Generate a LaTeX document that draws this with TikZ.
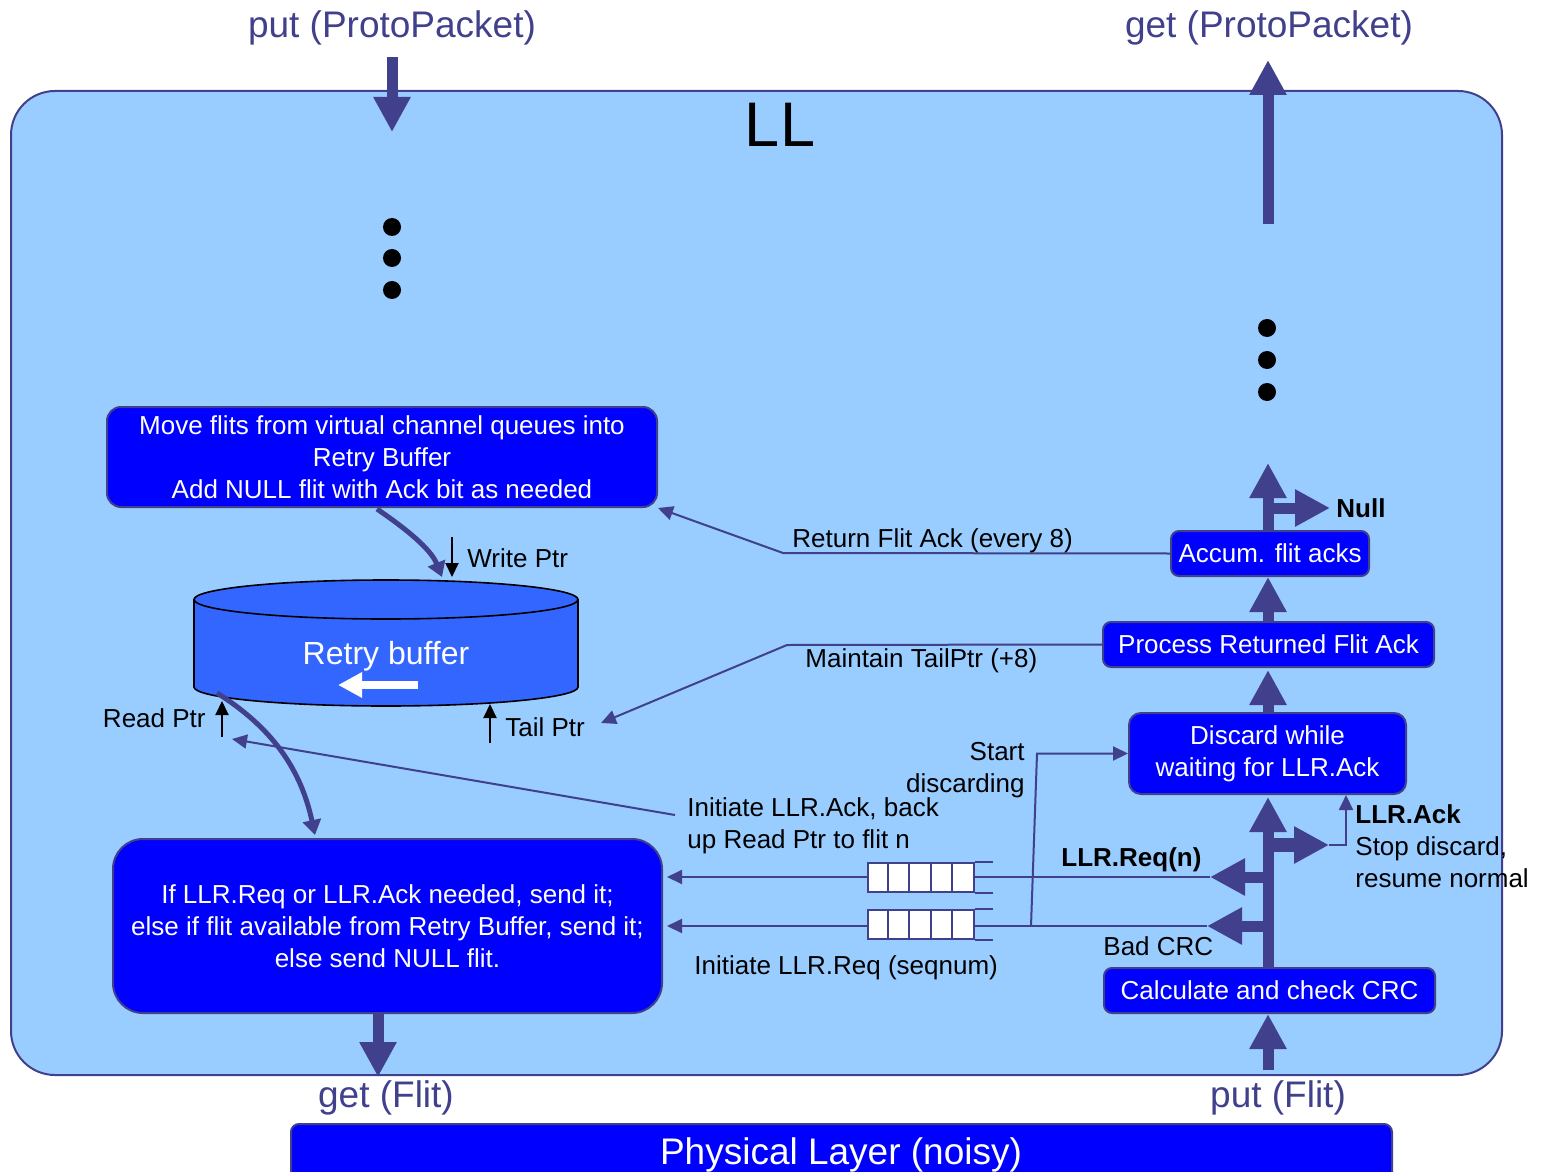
\documentclass[tikz,border=0pt]{standalone}
\usepackage{fontspec}
\setmainfont{Liberation Sans}
\usetikzlibrary{arrows.meta,calc}
\definecolor{dslate}{HTML}{40408C}
\definecolor{llfill}{HTML}{99CCFF}
\definecolor{boxblue}{HTML}{0000FF}
\definecolor{cylfill}{HTML}{3366FF}
\newcommand\fsn{\fontsize{13pt}{16pt}\selectfont}
\newcommand\fsl{\fontsize{18.5pt}{22pt}\selectfont}
\newcommand\fsll{\fontsize{31.5pt}{36pt}\selectfont}
\newcommand\fsr{\fontsize{16pt}{19pt}\selectfont}
\tikzset{
  lbl/.style={inner sep=0pt, text height=9.36pt, text depth=0pt, font=\fsn},
  mlbl/.style={inner sep=0pt, font=\fsn},
  biglbl/.style={inner sep=0pt, text height=13.3pt, text depth=0pt, font=\fsl, text=dslate},
  bx/.style={draw=dslate, line width=1pt, fill=boxblue, text=white, inner sep=0pt, align=center, font=\fsn},
  blk/.style={draw=dslate, line width=5.5pt, -{Triangle[length=17.5pt,width=17.5pt]}},
  thinln/.style={draw=dslate, line width=1pt},
  thinarr/.style={thinln, -{Triangle[length=7.5pt,width=7pt]}},
  ptr/.style={draw=black, line width=1pt, -{Triangle[length=7pt,width=6.5pt]}},
  curv/.style={draw=dslate, line width=2.5pt, -{Triangle[length=7.5pt,width=9pt]}},
  queue/.style={draw=dslate, fill=white, line width=1pt, minimum width=53pt, minimum height=14.5pt, inner sep=0pt},
}
\begin{document}
\begin{tikzpicture}[x=0.5pt,y=-0.5pt]
\useasboundingbox (0,0) rectangle (1545,1171);
% container
\node[draw=dslate, fill=llfill, line width=1pt, rounded corners=22pt,
      minimum width=745.5pt, minimum height=492pt, inner sep=0pt] (ll) at (756.5,583) {};
\node[inner sep=0pt, text height=22.7pt, text depth=0pt, font=\fsll] (lltext) at (780,124) {LL};
% top labels
\node[biglbl] (putpp) at (392,24) {put (ProtoPacket)};
\node[biglbl] (getpp) at (1269,24) {get (ProtoPacket)};
\coordinate (pin1) at (392,57);
\coordinate (pin2) at (392,132);
\coordinate (gout1) at (1268,224);
\coordinate (gout2) at (1268,60);
\draw[blk] (pin1) -- (pin2);
\draw[blk] (gout1) -- (gout2);
% dots
\foreach \yy in {227,258,290} \fill (392,\yy) circle[radius=9];
\foreach \yy in {328,360,392} \fill (1267,\yy) circle[radius=9];
% left boxes
\node[bx, minimum width=275pt, minimum height=50pt, rounded corners=7pt] (move) at (382,457)
  {Move flits from virtual channel queues into\\Retry Buffer\\Add NULL flit with Ack bit as needed};
\node[bx, minimum width=274.5pt, minimum height=87pt, rounded corners=15pt] (send) at (387.5,926)
  {If LLR.Req or LLR.Ack needed, send it;\\else if flit available from Retry Buffer, send it;\\else send NULL flit.};
% cylinder
\fill[cylfill] (194,599.5) -- (194,687) arc[start angle=180,end angle=0,x radius=192,y radius=19] -- (578,599.5) -- cycle;
\draw[black, line width=0.8pt] (194,599.5) -- (194,687) arc[start angle=180,end angle=0,x radius=192,y radius=19] -- (578,599.5);
\filldraw[fill=cylfill, draw=black, line width=0.8pt] (386,599.5) ellipse[x radius=192, y radius=19.5];
\node[inner sep=0pt, text height=11.5pt, text depth=0pt, font=\fsr, text=white] (rb) at (386,653) {Retry buffer};
\coordinate (wa1) at (418,685);
\coordinate (wa2) at (338,685);
\draw[white, line width=4pt, -{Triangle[length=12pt,width=12pt]}] (wa1) -- (wa2);
% curved arrows
\coordinate (c1s) at (377,509);
\coordinate (c1e) at (442,577);
\draw[curv] (c1s) .. controls (415,535) and (432,552) .. (c1e);
\coordinate (c2s) at (217,693);
\coordinate (c2e) at (315,835);
\draw[curv] (c2s) .. controls (268,725) and (300,765) .. (c2e);
% pointers
\node[lbl, anchor=west] (wp) at (467,558) {Write Ptr};
\node[lbl, anchor=east] (rp) at (206,718) {Read Ptr};
\node[lbl, anchor=west] (tp) at (505,727) {Tail Ptr};
\coordinate (wp1) at (452,537); \coordinate (wp2) at (452,577);
\coordinate (rp1) at (222,737); \coordinate (rp2) at (222,701);
\coordinate (tp1) at (490,743); \coordinate (tp2) at (490,704);
\draw[ptr] (wp1) -- (wp2);
\draw[ptr] (rp1) -- (rp2);
\draw[ptr] (tp1) -- (tp2);
% right boxes
\node[bx, minimum width=99pt, minimum height=22.5pt, rounded corners=4pt] (accum) at (1270,553.5) {Accum. flit acks};
\node[bx, minimum width=165.5pt, minimum height=22.5pt, rounded corners=4pt] (proc) at (1268.5,644.5) {Process Returned Flit Ack};
\node[bx, minimum width=138.5pt, minimum height=40.5pt, rounded corners=6pt] (discard) at (1267.5,753.5) {Discard while\\waiting for LLR.Ack};
\node[bx, minimum width=165.5pt, minimum height=22.5pt, rounded corners=4pt] (crc) at (1269.5,990.5) {Calculate and check CRC};
% right column block arrows
\coordinate (nulltop) at (1268,463);
\coordinate (nullb) at (1268,508);
\coordinate (nullt) at (1330,508);
\draw[blk] (accum.north -| nulltop) -- (nulltop);
\draw[blk] (nullb) -- (nullt);
\node[lbl, font=\fsn\bfseries, anchor=west] (null) at (1336,508) {Null};
\draw[blk] (proc.north -| nulltop) -- (accum.south -| nulltop);
\draw[blk] (discard.north -| nulltop) -- ([yshift=-1pt]proc.south -| nulltop);
\draw[blk] (crc.north -| nulltop) -- ([yshift=-1pt]discard.south -| nulltop);
\coordinate (ackb) at (1268,845);
\coordinate (ackt) at (1329,845);
\coordinate (reqb) at (1268,877);
\coordinate (reqt) at (1210,877);
\coordinate (badb) at (1268,926);
\coordinate (badt) at (1207,926);
\draw[blk, line width=7pt] (ackb) -- (ackt);
\draw[blk] (reqb) -- (reqt);
\draw[blk] (badb) -- (badt);
% bottom arrows and physical layer
\coordinate (getfl) at (378,1077);
\draw[blk] (send.south -| getfl) -- (getfl);
\coordinate (putfl) at (1268,1070);
\draw[blk] (putfl) -- (crc.south -| putfl);
\node[biglbl] (getf) at (386,1094) {get (Flit)};
\node[biglbl] (putf) at (1278,1094) {put (Flit)};
\node[draw=dslate, fill=boxblue, line width=1pt, rounded corners=4pt, minimum width=550.5pt, minimum height=35pt, inner sep=0pt] (phys) at (841.5,1159) {};
\node[inner sep=0pt, text height=13.3pt, text depth=0pt, font=\fsl, text=white] (physt) at (841,1151) {Physical Layer (noisy)};
% queues
\node[queue] (q1) at (921,877.5) {};
\node[queue] (q2) at (921,924) {};
\foreach \q in {q1,q2}{
  \foreach \i in {1,...,4}
    \draw[thinln] ([xshift=\i*10.6pt]\q.north west) -- ([xshift=\i*10.6pt]\q.south west);
  \draw[thinln] (\q.north east) -- ++(18,0);
  \draw[thinln] (\q.south east) -- ++(18,0);
}
\draw[thinln] (reqt) -- (reqt -| q1.east);
\draw[thinarr] (reqt -| q1.west) -- (reqt -| 667,0);
\draw[thinln] (badt) -- (badt -| q2.east);
\draw[thinarr] (badt -| q2.west) -- (badt -| 667,0);
% start discarding
\coordinate (sd1) at (1031,926);
\coordinate (sd2) at (1037,753.5);
\draw[thinarr] (sd1) -- (sd2) -- (discard.west);
\node[mlbl, align=right, anchor=east] (sdtext) at (1025,770) {Start\\discarding};
% LLR.Ack thin
\coordinate (ak1) at (1346,845);
\draw[thinarr] (ackt) -- (ak1) -- (discard.south -| ak1);
\node[lbl, font=\fsn\bfseries, anchor=west] (llrack) at (1355,814) {LLR.Ack};
\node[mlbl, align=left, anchor=west] (stopd) at (1355,862) {Stop discard,\\resume normal};
\node[lbl, font=\fsn\bfseries, anchor=west] (llrreq) at (1061,857) {LLR.Req(n)};
\node[lbl, anchor=west] (badcrc) at (1103,946) {Bad CRC};
\node[lbl, anchor=west] (initreq) at (694,965) {Initiate LLR.Req (seqnum)};
% Initiate LLR.Ack
\node[mlbl, align=left, anchor=west] (initack) at (687,825.5) {Initiate LLR.Ack, back\\up Read Ptr to flit n};
\coordinate (ia1) at (675,815);
\coordinate (ia2) at (232,739);
\draw[thinarr] (ia1) -- (ia2);
% return flit ack
\coordinate (ret) at (783,553);
\draw[thinarr] (accum.west) -- (ret) -- (move.south east);
\node[lbl, anchor=west] (rettext) at (792,538) {Return Flit Ack (every 8)};
% maintain tailptr
\coordinate (mt) at (787,645);
\coordinate (mtip) at (601,723);
\draw[thinarr] (proc.west) -- (mt) -- (mtip);
\node[lbl, anchor=west] (mttext) at (805,658) {Maintain TailPtr (+8)};
\end{tikzpicture}
\end{document}
